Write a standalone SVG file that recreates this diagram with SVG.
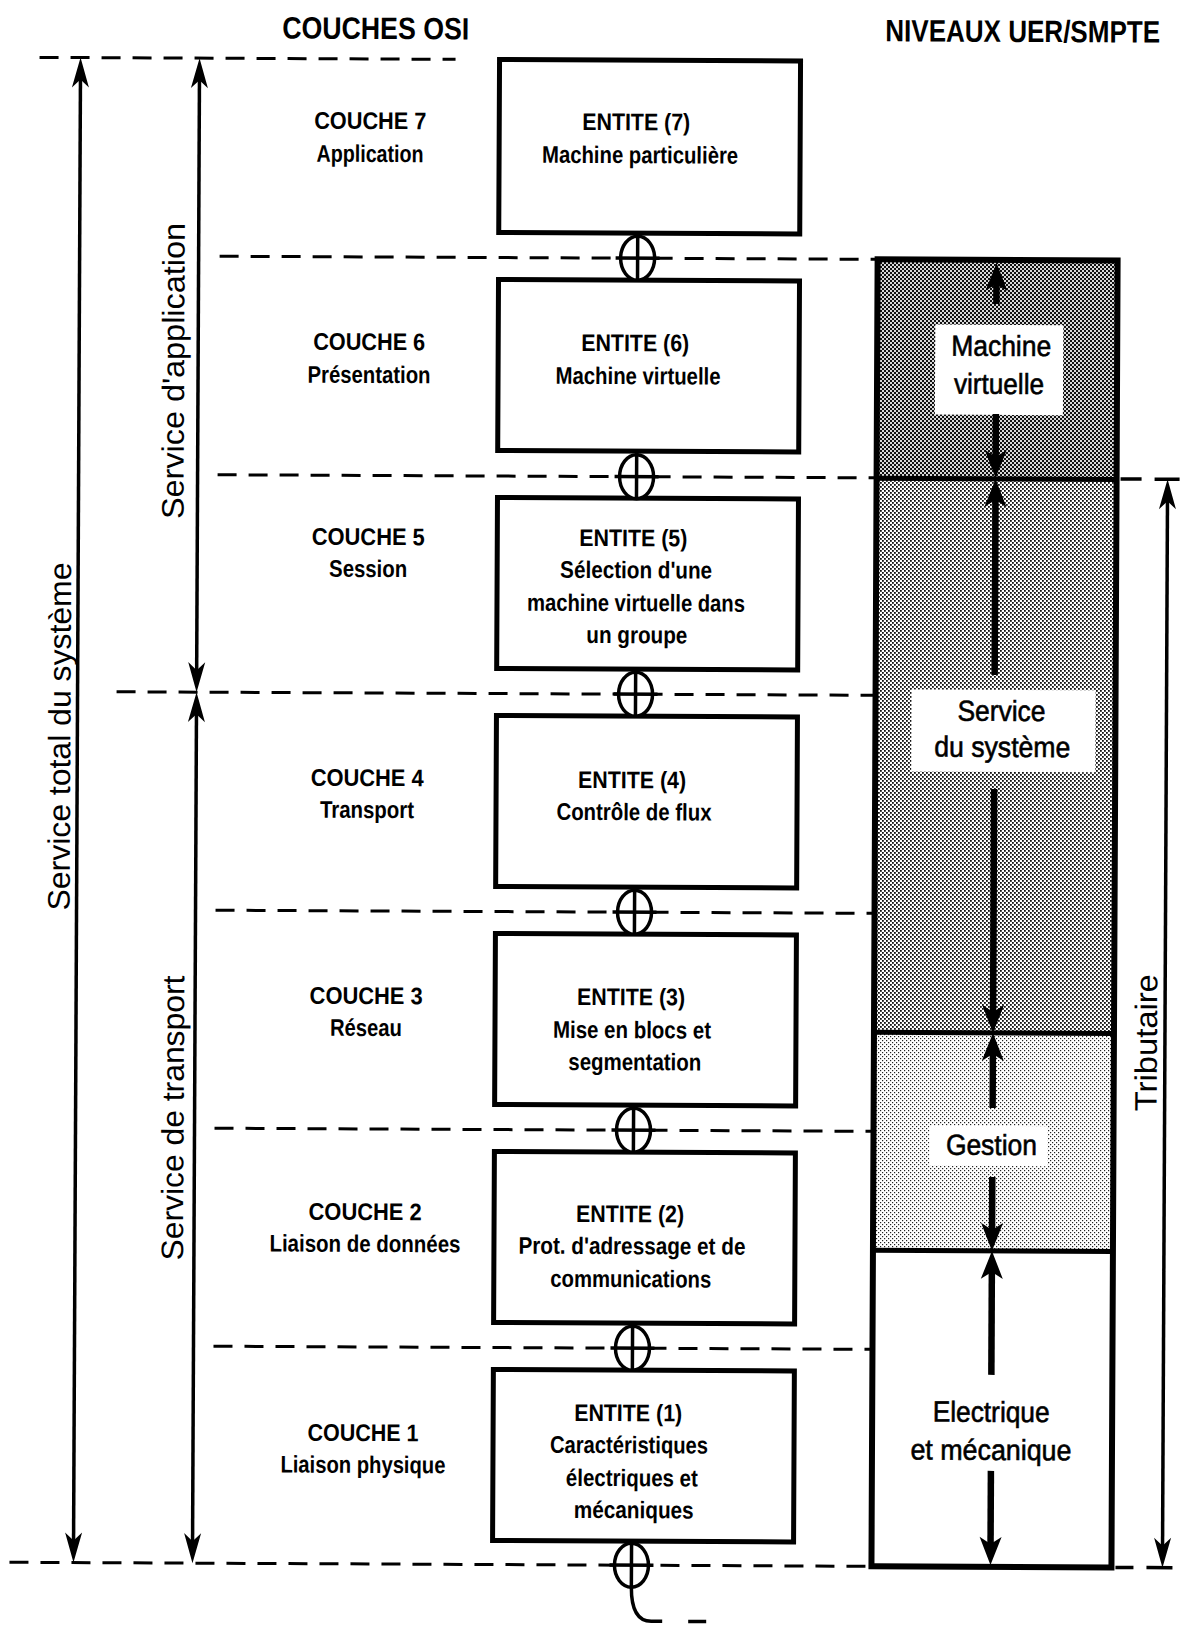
<svg xmlns="http://www.w3.org/2000/svg" xmlns:xlink="http://www.w3.org/1999/xlink" width="1184" height="1627" viewBox="0 0 1184 1627">
<style>
.dash{fill:none;stroke:#000;stroke-width:3;stroke-dasharray:19 12}
.box{fill:#fff;stroke:#000;stroke-width:5}
.t{font-family:"Liberation Sans",Arial,sans-serif;font-weight:bold;font-size:24px;text-anchor:middle;fill:#000}
.h{font-family:"Liberation Sans",Arial,sans-serif;font-weight:bold;font-size:31px;text-anchor:middle;fill:#000}
.rot{font-family:"Liberation Sans",Arial,sans-serif;font-size:31px;text-anchor:middle;fill:#000}
.lbl{font-family:"Liberation Sans",Arial,sans-serif;font-size:29px;text-anchor:middle;fill:#000;stroke:#000;stroke-width:0.6}
.ln{fill:none;stroke:#000;stroke-width:3.5}
.thick{fill:none;stroke:#000;stroke-width:6.5}
.sep{fill:none;stroke:#000;stroke-width:5}
.ell{fill:#fff;stroke:#000;stroke-width:3.5}
</style>
<defs>
<path id="hu" d="M0,0 L8.5,30 L0,22 L-8.5,30 Z"/>
<path id="hd" d="M0,0 L8.5,-30 L0,-22 L-8.5,-30 Z"/>
<path id="HU" d="M0,0 L11,28 L0,21 L-11,28 Z"/>
<path id="HD" d="M0,0 L11,-28 L0,-21 L-11,-28 Z"/>
<pattern id="pDark" width="4" height="4" patternUnits="userSpaceOnUse" patternTransform="rotate(-0.27) translate(0.16225 0.78072)">
<rect width="4" height="4" fill="#d8d8d8"/><rect width="2" height="2" fill="#111"/><rect x="2" y="2" width="2" height="2" fill="#111"/>
</pattern>
<pattern id="pMid" width="4" height="4" patternUnits="userSpaceOnUse" patternTransform="rotate(-0.27) translate(0.16225 0.78072)">
<rect width="4" height="4" fill="#fff"/><rect width="1.8" height="1.8" fill="#111"/><rect x="2" y="2" width="1.8" height="1.8" fill="#111"/>
</pattern>
<pattern id="pLight" width="4" height="4" patternUnits="userSpaceOnUse" patternTransform="rotate(-0.27) translate(0.16225 0.78072)">
<rect width="4" height="4" fill="#fff"/><rect width="1.2" height="1.2" fill="#222"/><rect x="2" y="2" width="1.2" height="1.2" fill="#222"/>
</pattern>
</defs>
<rect width="1184" height="1627" fill="#fff"/>
<g transform="rotate(0.27 592 813)">

<g id="titles">
<text class="h" x="372" y="40" textLength="187" lengthAdjust="spacingAndGlyphs">COUCHES OSI</text>
<text class="h" transform="translate(1019,40) scale(0.84,1)" x="0" y="0">NIVEAUX UER/SMPTE</text>
</g>

<g id="service-labels">
<text class="rot" transform="translate(70,739) rotate(-90)" textLength="348" lengthAdjust="spacingAndGlyphs">Service total du système</text>
<text class="rot" transform="translate(182,373) rotate(-90)" textLength="296" lengthAdjust="spacingAndGlyphs">Service d'application</text>
<text class="rot" transform="translate(185,1120) rotate(-90)" textLength="285" lengthAdjust="spacingAndGlyphs">Service de transport</text>
<text class="rot" transform="translate(1158,1040) rotate(-90)" textLength="137" lengthAdjust="spacingAndGlyphs">Tributaire</text>
</g>

<g id="layer7">
<text class="t" x="367" y="130" textLength="112" lengthAdjust="spacingAndGlyphs">COUCHE 7</text>
<text class="t" x="367" y="163" textLength="107" lengthAdjust="spacingAndGlyphs">Application</text>
<rect class="box" x="496" y="60" width="301" height="173"/>
<text class="t" x="633" y="130" textLength="108" lengthAdjust="spacingAndGlyphs">ENTITE (7)</text>
<text class="t" x="637" y="163" textLength="196" lengthAdjust="spacingAndGlyphs">Machine particulière</text>
</g>
<g id="layer6">
<text class="t" x="367" y="351" textLength="112" lengthAdjust="spacingAndGlyphs">COUCHE 6</text>
<text class="t" x="367" y="384" textLength="123" lengthAdjust="spacingAndGlyphs">Présentation</text>
<rect class="box" x="496" y="280" width="301" height="171"/>
<text class="t" x="633" y="351" textLength="108" lengthAdjust="spacingAndGlyphs">ENTITE (6)</text>
<text class="t" x="636" y="384" textLength="165" lengthAdjust="spacingAndGlyphs">Machine virtuelle</text>
</g>
<g id="layer5">
<text class="t" x="367" y="546" textLength="113" lengthAdjust="spacingAndGlyphs">COUCHE 5</text>
<text class="t" x="367" y="578" textLength="78" lengthAdjust="spacingAndGlyphs">Session</text>
<rect class="box" x="496" y="498" width="301" height="171"/>
<text class="t" x="632" y="546" textLength="108" lengthAdjust="spacingAndGlyphs">ENTITE (5)</text>
<text class="t" x="635" y="578" textLength="152" lengthAdjust="spacingAndGlyphs">Sélection d'une</text>
<text class="t" x="635" y="611" textLength="218" lengthAdjust="spacingAndGlyphs">machine virtuelle dans</text>
<text class="t" x="636" y="643" textLength="101" lengthAdjust="spacingAndGlyphs">un groupe</text>
</g>
<g id="layer4">
<text class="t" x="367" y="787" textLength="113" lengthAdjust="spacingAndGlyphs">COUCHE 4</text>
<text class="t" x="367" y="819" textLength="94" lengthAdjust="spacingAndGlyphs">Transport</text>
<rect class="box" x="496" y="716" width="301" height="171"/>
<text class="t" x="632" y="788" textLength="108" lengthAdjust="spacingAndGlyphs">ENTITE (4)</text>
<text class="t" x="634" y="820" textLength="155" lengthAdjust="spacingAndGlyphs">Contrôle de flux</text>
</g>
<g id="layer3">
<text class="t" x="367" y="1005" textLength="113" lengthAdjust="spacingAndGlyphs">COUCHE 3</text>
<text class="t" x="367" y="1037" textLength="72" lengthAdjust="spacingAndGlyphs">Réseau</text>
<rect class="box" x="496" y="934" width="301" height="171"/>
<text class="t" x="632" y="1005" textLength="108" lengthAdjust="spacingAndGlyphs">ENTITE (3)</text>
<text class="t" x="633" y="1038" textLength="158" lengthAdjust="spacingAndGlyphs">Mise en blocs et</text>
<text class="t" x="636" y="1070" textLength="133" lengthAdjust="spacingAndGlyphs">segmentation</text>
</g>
<g id="layer2">
<text class="t" x="367" y="1221" textLength="113" lengthAdjust="spacingAndGlyphs">COUCHE 2</text>
<text class="t" x="367" y="1253" textLength="191" lengthAdjust="spacingAndGlyphs">Liaison de données</text>
<rect class="box" x="496" y="1152" width="301" height="171"/>
<text class="t" x="632" y="1222" textLength="108" lengthAdjust="spacingAndGlyphs">ENTITE (2)</text>
<text class="t" x="634" y="1254" textLength="227" lengthAdjust="spacingAndGlyphs">Prot. d'adressage et de</text>
<text class="t" x="633" y="1287" textLength="161" lengthAdjust="spacingAndGlyphs">communications</text>
</g>
<g id="layer1">
<text class="t" x="366" y="1442" textLength="111" lengthAdjust="spacingAndGlyphs">COUCHE 1</text>
<text class="t" x="366" y="1474" textLength="165" lengthAdjust="spacingAndGlyphs">Liaison physique</text>
<rect class="box" x="496" y="1370" width="301" height="171"/>
<text class="t" x="631" y="1421" textLength="108" lengthAdjust="spacingAndGlyphs">ENTITE (1)</text>
<text class="t" x="632" y="1453" textLength="158" lengthAdjust="spacingAndGlyphs">Caractéristiques</text>
<text class="t" x="635" y="1486" textLength="132" lengthAdjust="spacingAndGlyphs">électriques et</text>
<text class="t" x="637" y="1518" textLength="120" lengthAdjust="spacingAndGlyphs">mécaniques</text>
</g>

<g id="uer-column">
<rect x="875" y="258" width="240" height="219" fill="url(#pDark)"/>
<rect x="875" y="477" width="240" height="554" fill="url(#pMid)"/>
<rect x="875" y="1031" width="240" height="218" fill="url(#pLight)"/>
<rect x="875" y="1249" width="240" height="316" fill="#fff"/>
<line class="sep" x1="875" y1="477" x2="1115" y2="477"/>
<line class="sep" x1="875" y1="1031" x2="1115" y2="1031"/>
<line class="sep" x1="875" y1="1249" x2="1115" y2="1249"/>
<rect x="875" y="258" width="240" height="1307" fill="none" stroke="#000" stroke-width="6"/>
<g id="uer-machine-virtuelle">
<rect x="933" y="323" width="128" height="90" fill="#fff"/>
<text class="lbl" x="999" y="354" textLength="100" lengthAdjust="spacingAndGlyphs">Machine</text>
<text class="lbl" x="997" y="392" textLength="90" lengthAdjust="spacingAndGlyphs">virtuelle</text>
</g>
<g id="uer-service-systeme">
<rect x="911" y="688" width="184" height="82" fill="#fff"/>
<text class="lbl" x="1001" y="719" textLength="88" lengthAdjust="spacingAndGlyphs">Service</text>
<text class="lbl" x="1002" y="755" textLength="136" lengthAdjust="spacingAndGlyphs">du système</text>
</g>
<g id="uer-gestion">
<rect x="931" y="1124" width="118" height="40" fill="#fff"/>
<text class="lbl" x="993" y="1153" textLength="91" lengthAdjust="spacingAndGlyphs">Gestion</text>
</g>
<g id="uer-electrique">
<text class="lbl" x="994" y="1420" textLength="117" lengthAdjust="spacingAndGlyphs">Electrique</text>
<text class="lbl" x="994" y="1458" textLength="161" lengthAdjust="spacingAndGlyphs">et mécanique</text>
</g>
</g>

<g id="connectors">
<line class="dash" x1="36" y1="60" x2="452" y2="60"/>
<line class="dash" x1="217" y1="258" x2="875" y2="258"/>
<line class="dash" x1="216" y1="476.5" x2="875" y2="476.5"/>
<line class="dash" x1="116" y1="694" x2="875" y2="694"/>
<line class="dash" x1="216" y1="912" x2="875" y2="912"/>
<line class="dash" x1="216" y1="1130" x2="875" y2="1130"/>
<line class="dash" x1="216" y1="1348" x2="875" y2="1348"/>
<line class="dash" x1="13" y1="1565" x2="875" y2="1565"/>
<path class="ln" d="M1119,476.5 H1140 M1153,476.5 H1178"/>
<path class="ln" d="M1119,1565 H1137 M1150,1565 H1176"/>

<line class="ln" x1="77" y1="80" x2="77" y2="1545"/>
<use href="#hu" x="77" y="60"/><use href="#hd" x="77" y="1565"/>
<line class="ln" x1="196" y1="80" x2="196" y2="674"/>
<use href="#hu" x="196" y="60"/><use href="#hd" x="196" y="694"/>
<line class="ln" x1="196" y1="714" x2="196" y2="1545"/>
<use href="#hu" x="196" y="694"/><use href="#hd" x="196" y="1565"/>
<line class="ln" x1="1166" y1="496" x2="1166" y2="1545"/>
<use href="#hu" x="1166" y="476.5"/><use href="#hd" x="1166" y="1565"/>

<line class="thick" x1="994" y1="302" x2="994" y2="280"/><use href="#HU" x="994" y="261"/>
<line class="thick" x1="994" y1="412" x2="994" y2="458"/><use href="#HD" x="994" y="476"/>
<line class="thick" x1="994" y1="673" x2="994" y2="496"/><use href="#HU" x="994" y="477"/>
<line class="thick" x1="994" y1="787" x2="994" y2="1012"/><use href="#HD" x="994" y="1031"/>
<line class="thick" x1="994" y1="1106" x2="994" y2="1050"/><use href="#HU" x="994" y="1031"/>
<line class="thick" x1="994" y1="1175" x2="994" y2="1230"/><use href="#HD" x="994" y="1249"/>
<line class="thick" x1="994" y1="1373" x2="994" y2="1268"/><use href="#HU" x="994" y="1249"/>
<line class="thick" x1="994" y1="1469" x2="994" y2="1544"/><use href="#HD" x="994" y="1563"/>

<g id="sap">
<ellipse class="ell" cx="635" cy="258" rx="17" ry="22"/>
<ellipse class="ell" cx="635" cy="476.5" rx="17" ry="22"/>
<ellipse class="ell" cx="635" cy="694" rx="17" ry="22"/>
<ellipse class="ell" cx="635" cy="912" rx="17" ry="22"/>
<ellipse class="ell" cx="635" cy="1130" rx="17" ry="22"/>
<ellipse class="ell" cx="635" cy="1348" rx="17" ry="22"/>
<ellipse class="ell" cx="635" cy="1565" rx="17" ry="22"/>
<path class="ln" d="M635,233 V280 M635,451 V498 M635,669 V716 M635,887 V934 M635,1105 V1152 M635,1323 V1370 M635,1541 V1587"/>
<path class="ln" d="M613,258 H657 M613,476.5 H657 M613,694 H657 M613,912 H657 M613,1130 H657 M613,1348 H657 M613,1565 H657"/>
<path class="ln" d="M635,1587 C635,1607 640,1621 655,1621 H666"/>
<path class="ln" d="M692,1621 H710"/>
</g>
</g>
</g>
</svg>
